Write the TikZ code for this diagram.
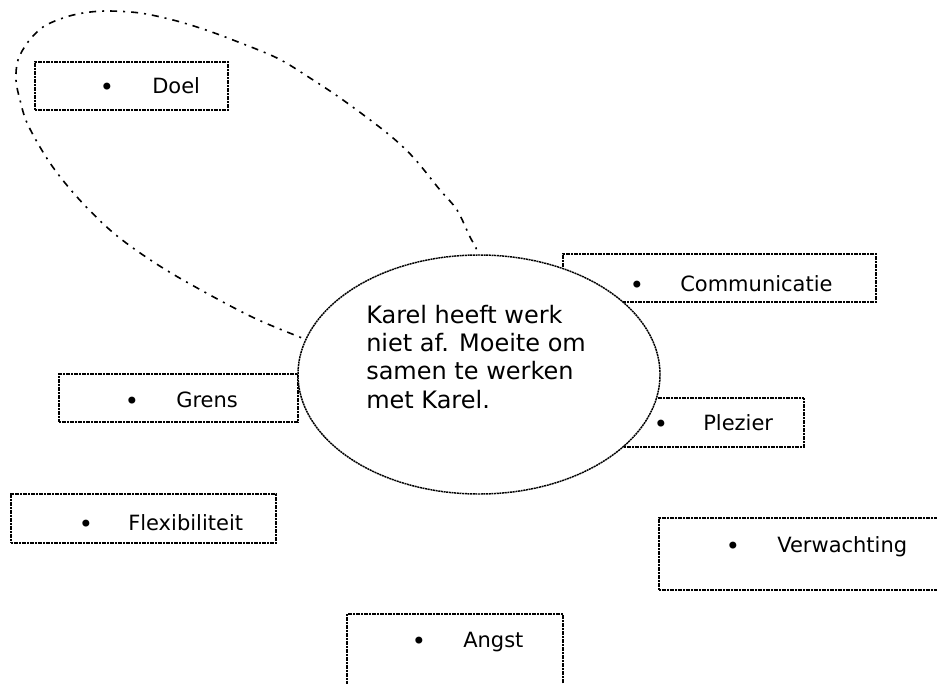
\documentclass[tikz,border=0pt]{standalone}
\usepackage{fontspec}
\setmainfont{DejaVu Sans}
\usetikzlibrary{shapes.geometric,fit}
\begin{document}
\begin{tikzpicture}[x=0.75pt,y=-0.75pt,
  tbox/.style={draw=black, line width=1.1pt, dash pattern=on 1.5pt off 0.5pt, inner sep=0pt, fill=none},
  lbl/.style={inner sep=0pt, anchor=base west, font=\fontsize{15.75}{19}\selectfont},
  bul/.style={inner sep=0pt, anchor=base, font=\fontsize{18}{19}\selectfont},
  ctr/.style={ellipse, draw=black, line width=1.1pt, dash pattern=on 1.5pt off 0.5pt, fill=white, inner sep=0pt,
     minimum width=362*0.75pt, minimum height=239*0.75pt},
  loopln/.style={line width=1.2pt, dash pattern=on 5.25pt off 4.5pt on 1.5pt off 4.5pt}
]
\clip (0,0) rectangle (937,684);
% boxes
\node[tbox, fit={(35,62)(228,110)}] (doelbox) {};
\node[tbox, fit={(563,254)(876,302)}] (combox) {};
\node[tbox, fit={(59,374)(298,422)}] (grensbox) {};
\node[tbox, fit={(600,398)(804,447)}] (plezbox) {};
\node[tbox, fit={(11,494)(276,543)}] (flexbox) {};
\node[tbox, fit={(659,518)(960,590)}] (verwbox) {};
\node[tbox, fit={(347,614)(563,710)}] (angstbox) {};
% dash-dot loop
\draw[loopln] plot[smooth, tension=0.55] coordinates {
 (479,262) (476,248) (470,237) (457,210) (440,190) (413,157) (387,133) (343,100) (310,78) (277,58) (233,40)
 (203,29) (173,20) (140,13) (107,11) (83,13) (63,18) (43,27) (28,42) (18,60) (16,80) (20,100) (28,125)
 (50,163) (77,197) (110,230) (143,255) (183,280) (250,316) (302,338) (310,341)};
% central ellipse
\node[ctr] (kern) at (479,374.5) {};
\node[inner sep=0pt, anchor=base west, align=left, font=\fontsize{18}{21.2}\selectfont] (kerntxt) at (366,408)
 {Karel heeft werk\\niet af. Moeite om\\samen te werken\\met Karel.};
% labels
\node[bul] (b1) at (107,96) {•};   \node[lbl] (t1) at (152,94) {Doel};
\node[bul] (b2) at (637,293) {•};  \node[lbl] (t2) at (680,291) {Communicatie};
\node[bul] (b3) at (132,409) {•};  \node[lbl] (t3) at (176,407) {Grens};
\node[bul] (b4) at (661,432) {•};  \node[lbl] (t4) at (703,430) {Plezier};
\node[bul] (b5) at (86,532) {•};   \node[lbl] (t5) at (128,530) {Flexibiliteit};
\node[bul] (b6) at (733,554) {•};  \node[lbl] (t6) at (777,552) {Verwachting};
\node[bul] (b7) at (419,649) {•};  \node[lbl] (t7) at (463,647) {Angst};
\end{tikzpicture}
\end{document}
